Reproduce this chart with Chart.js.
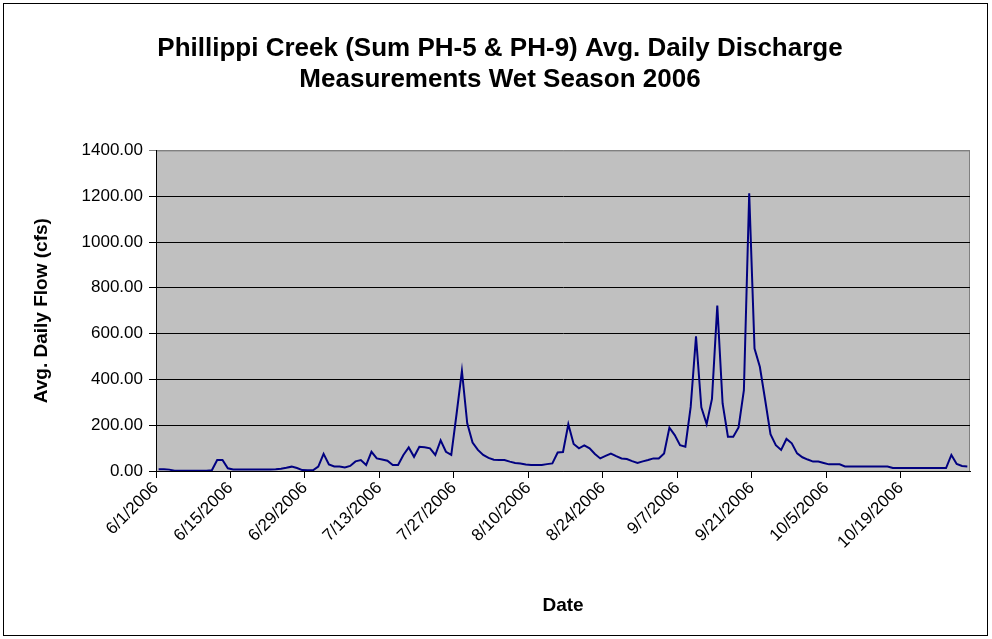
<!DOCTYPE html>
<html>
<head>
<meta charset="utf-8">
<script src="https://cdn.jsdelivr.net/npm/chart.js@4.4.0/dist/chart.umd.min.js"></script>
<style>
  html, body { margin: 0; padding: 0; background: #fff; }
  #wrap { width: 992px; height: 639px; position: relative; }
</style>
</head>
<body>
<div id="wrap"><canvas id="myChart"></canvas></div>
<script>
// one category per day, 6/1/2006 .. 10/31/2006
const dates = [];
for (let i = 0; i < 153; i++) {
    const d = new Date(2006, 5, 1 + i);
    dates.push((d.getMonth() + 1) + "/" + d.getDate() + "/" + d.getFullYear());
}

const tickLabels = [
    "6/1/2006", "6/15/2006", "6/29/2006", "7/13/2006", "7/27/2006", "8/10/2006",
    "8/24/2006", "9/7/2006", "9/21/2006", "10/5/2006", "10/19/2006"
];

// avg. daily flow (cfs)
const flow = [
    8, 8, 6, 1, 1, 1, 1, 1, 1, 1,
    3, 48, 48, 12, 7, 7, 7, 7, 7, 7,
    7, 7, 8, 10, 14, 19, 13, 4, 3, 3,
    19, 75, 29, 20, 20, 15, 22, 42, 48, 26,
    84, 55, 50, 45, 26, 26, 70, 103, 62, 106,
    104, 99, 70, 134, 84, 70, 250, 437, 208, 124,
    92, 70, 57, 49, 48, 48, 41, 35, 33, 28,
    26, 26, 26, 30, 33, 81, 83, 204, 118, 99,
    112, 99, 74, 55, 66, 76, 65, 55, 52, 43,
    35, 42, 48, 55, 55, 77, 189, 157, 113, 106,
    280, 588, 278, 205, 315, 722, 295, 150, 150, 190,
    353, 1213, 535, 455, 310, 161, 113, 92, 140, 121,
    77, 60, 50, 41, 41, 35, 29, 29, 29, 20,
    20, 20, 20, 20, 20, 20, 20, 20, 13, 13,
    13, 13, 13, 13, 13, 13, 13, 13, 13, 70,
    31, 22, 20
];

const yTicks = [0, 200, 400, 600, 800, 1000, 1200, 1400];

const FONT = "'Liberation Sans', Arial, sans-serif";

const plotBg = {
    id: "plotBg",
    beforeDraw(chart) {
        const { ctx, chartArea: a } = chart;
        ctx.save();
        ctx.fillStyle = "#ffffff";
        ctx.fillRect(0, 0, chart.width, chart.height);
        ctx.fillStyle = "#c0c0c0";
        ctx.fillRect(a.left, a.top, a.right - a.left, a.bottom - a.top);
        ctx.strokeStyle = "#808080";
        ctx.lineWidth = 1;
        ctx.beginPath();
        ctx.moveTo(a.left, a.top + 0.5);
        ctx.lineTo(a.right - 0.5, a.top + 0.5);
        ctx.lineTo(a.right - 0.5, a.bottom);
        ctx.stroke();
        ctx.strokeStyle = "#000000";
        ctx.strokeRect(3.5, 3.5, 984, 632);
        ctx.restore();
    }
};

new Chart(document.getElementById("myChart"), {
    type: "line",
    data: {
        labels: dates,
        datasets: [{
            data: flow,
            borderColor: "#000080",
            borderWidth: 2,
            pointRadius: 0,
            tension: 0,
            fill: false
        }]
    },
    options: {
        responsive: true,
        maintainAspectRatio: false,
        animation: false,
        layout: { padding: { left: 30, right: 22, top: 5, bottom: 8 } },
        plugins: {
            legend: { display: false },
            tooltip: { enabled: false },
            title: {
                display: true,
                text: ["Phillippi Creek (Sum PH-5 & PH-9) Avg. Daily Discharge", "Measurements Wet Season 2006"],
                color: "#000",
                font: { family: FONT, size: 26, weight: "bold", lineHeight: 1.2 },
                padding: { top: 28, bottom: 55 }
            }
        },
        scales: {
            x: {
                type: "category",
                offset: true,
                grid: {
                    offset: true,
                    drawOnChartArea: false,
                    drawTicks: true,
                    tickLength: 7,
                    color: c => (c.index % 14 === 0 ? "#000" : "rgba(0,0,0,0)")
                },
                border: { color: "#000", width: 1 },
                ticks: {
                    autoSkip: false,
                    maxRotation: 45,
                    minRotation: 45,
                    labelOffset: -2.7,
                    padding: 0,
                    color: "#000",
                    font: { family: FONT, size: 17 },
                    callback: (v, i) => (tickLabels.includes(dates[i]) ? dates[i] : "")
                },
                title: {
                    display: true,
                    text: "Date",
                    color: "#000",
                    font: { family: FONT, size: 19, weight: "bold" },
                    padding: { top: 0, bottom: 14 }
                },
                afterFit(s) { s.height = 160; }
            },
            y: {
                min: 0,
                max: 1400,
                afterBuildTicks(s) { s.ticks = yTicks.map(v => ({ value: v })); },
                grid: {
                    color: c => (c.tick && c.tick.value === 1400 ? "#808080" : "#000"),
                    tickLength: 7,
                    drawTicks: true
                },
                border: { color: "#000", width: 1 },
                ticks: {
                    color: "#000",
                    padding: 6,
                    font: { family: FONT, size: 17 },
                    callback: v => Number(v).toFixed(2)
                },
                title: {
                    display: true,
                    text: "Avg. Daily Flow (cfs)",
                    color: "#000",
                    font: { family: FONT, size: 19, weight: "bold" },
                    padding: { top: 0, bottom: 0 }
                },
                afterFit(s) { s.width = 126; }
            }
        }
    },
    plugins: [plotBg]
});
</script>
</body>
</html>
